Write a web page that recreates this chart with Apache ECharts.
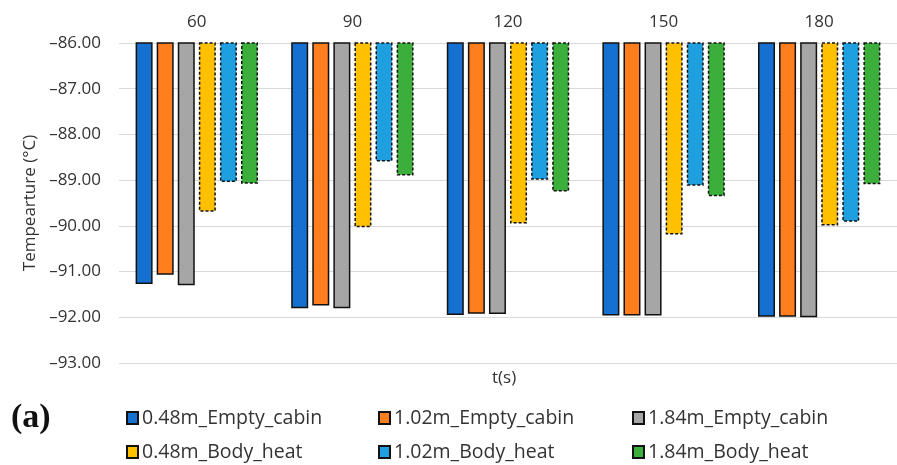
<!DOCTYPE html>
<html>
<head>
<meta charset="utf-8">
<script src="https://cdn.jsdelivr.net/npm/echarts@6/dist/echarts.min.js"></script>
<style>
  html, body { margin: 0; padding: 0; background: #fff; overflow: hidden; }
  #chart { width: 897px; height: 465px; }
</style>
</head>
<body>
<div id="chart"></div>
<script>
// Time steps (s)
const times = ['60', '90', '120', '150', '180'];

// Temperature (°C) at each height, empty cabin vs. with body heat
const empty048 = [-91.27, -91.80, -91.95, -91.96, -91.99];
const empty102 = [-91.07, -91.74, -91.92, -91.96, -91.99];
const empty184 = [-91.30, -91.80, -91.93, -91.96, -92.00];
const body048  = [-89.69, -90.03, -89.95, -90.19, -89.99];
const body102  = [-89.04, -88.59, -88.99, -89.12, -89.91];
const body184  = [-89.08, -88.90, -89.25, -89.35, -89.09];

const seriesNames = [
  '0.48m_Empty_cabin', '1.02m_Empty_cabin', '1.84m_Empty_cabin',
  '0.48m_Body_heat', '1.02m_Body_heat', '1.84m_Body_heat'
];
const seriesData = [empty048, empty102, empty184, body048, body102, body184];
const colors = ['#1670D0', '#FF7F1F', '#A6A6A6', '#FFC000', '#1E9FE0', '#3BAE3B'];
const dashed = [false, false, false, true, true, true];

const FONT = '"Open Sans", Lato, sans-serif';

const series = seriesNames.map((name, i) => ({
  name: name,
  type: 'bar',
  data: seriesData[i],
  barWidth: 17,
  barGap: '24%',
  clip: true,
  itemStyle: {
    color: colors[i],
    borderColor: '#111',
    borderWidth: 1.5,
    borderType: dashed[i] ? [3, 2] : 'solid'
  },
  emphasis: { disabled: true }
}));

// one legend block per series, laid out in a 3 x 2 grid
const legendLeft = [121, 373, 627];
const legendTop = [403, 437];
const legends = seriesNames.map((name, i) => ({
  data: [name],
  left: legendLeft[i % 3],
  top: legendTop[Math.floor(i / 3)],
  itemWidth: 11,
  itemHeight: 12,
  itemGap: 4,
  icon: 'rect',
  selectedMode: false,
  textStyle: { fontFamily: FONT, fontSize: 19.5, color: '#333', padding: [0, 0, 0, -1] }
}));

const chart = echarts.init(document.getElementById('chart'));
chart.setOption({
  animation: false,
  color: colors,
  // the plot area runs slightly past the right edge of the canvas
  grid: { left: 119, right: -11, top: 43, bottom: 102, containLabel: false },
  xAxis: {
    type: 'category',
    data: times,
    position: 'top',
    axisLine: { show: false },
    axisTick: { show: false },
    axisLabel: { fontFamily: FONT, fontSize: 17, color: '#333', margin: 12 }
  },
  yAxis: {
    type: 'value',
    min: -93,
    max: -86,
    interval: 1,
    name: 'Tempearture (°C)',
    nameLocation: 'middle',
    nameGap: 77,
    nameTextStyle: { fontFamily: FONT, fontSize: 17, color: '#333' },
    axisLine: { show: false },
    axisTick: { show: false },
    splitLine: { lineStyle: { color: '#d9d9d9', width: 1.2 } },
    axisLabel: {
      fontFamily: FONT, fontSize: 17, color: '#333', margin: 18,
      formatter: v => '\u2013' + Math.abs(v).toFixed(2)
    }
  },
  legend: legends,
  graphic: [
    {
      type: 'text', left: 492, top: 370,
      style: { text: 't(s)', fontFamily: FONT, fontSize: 17, fill: '#333' }
    },
    {
      type: 'text', left: 11, top: 401,
      style: { text: '(a)', fontFamily: '"Liberation Serif", "DejaVu Serif", serif', fontWeight: 'bold', fontSize: 34, fill: '#111' }
    }
  ],
  series: series
});
</script>
</body>
</html>
